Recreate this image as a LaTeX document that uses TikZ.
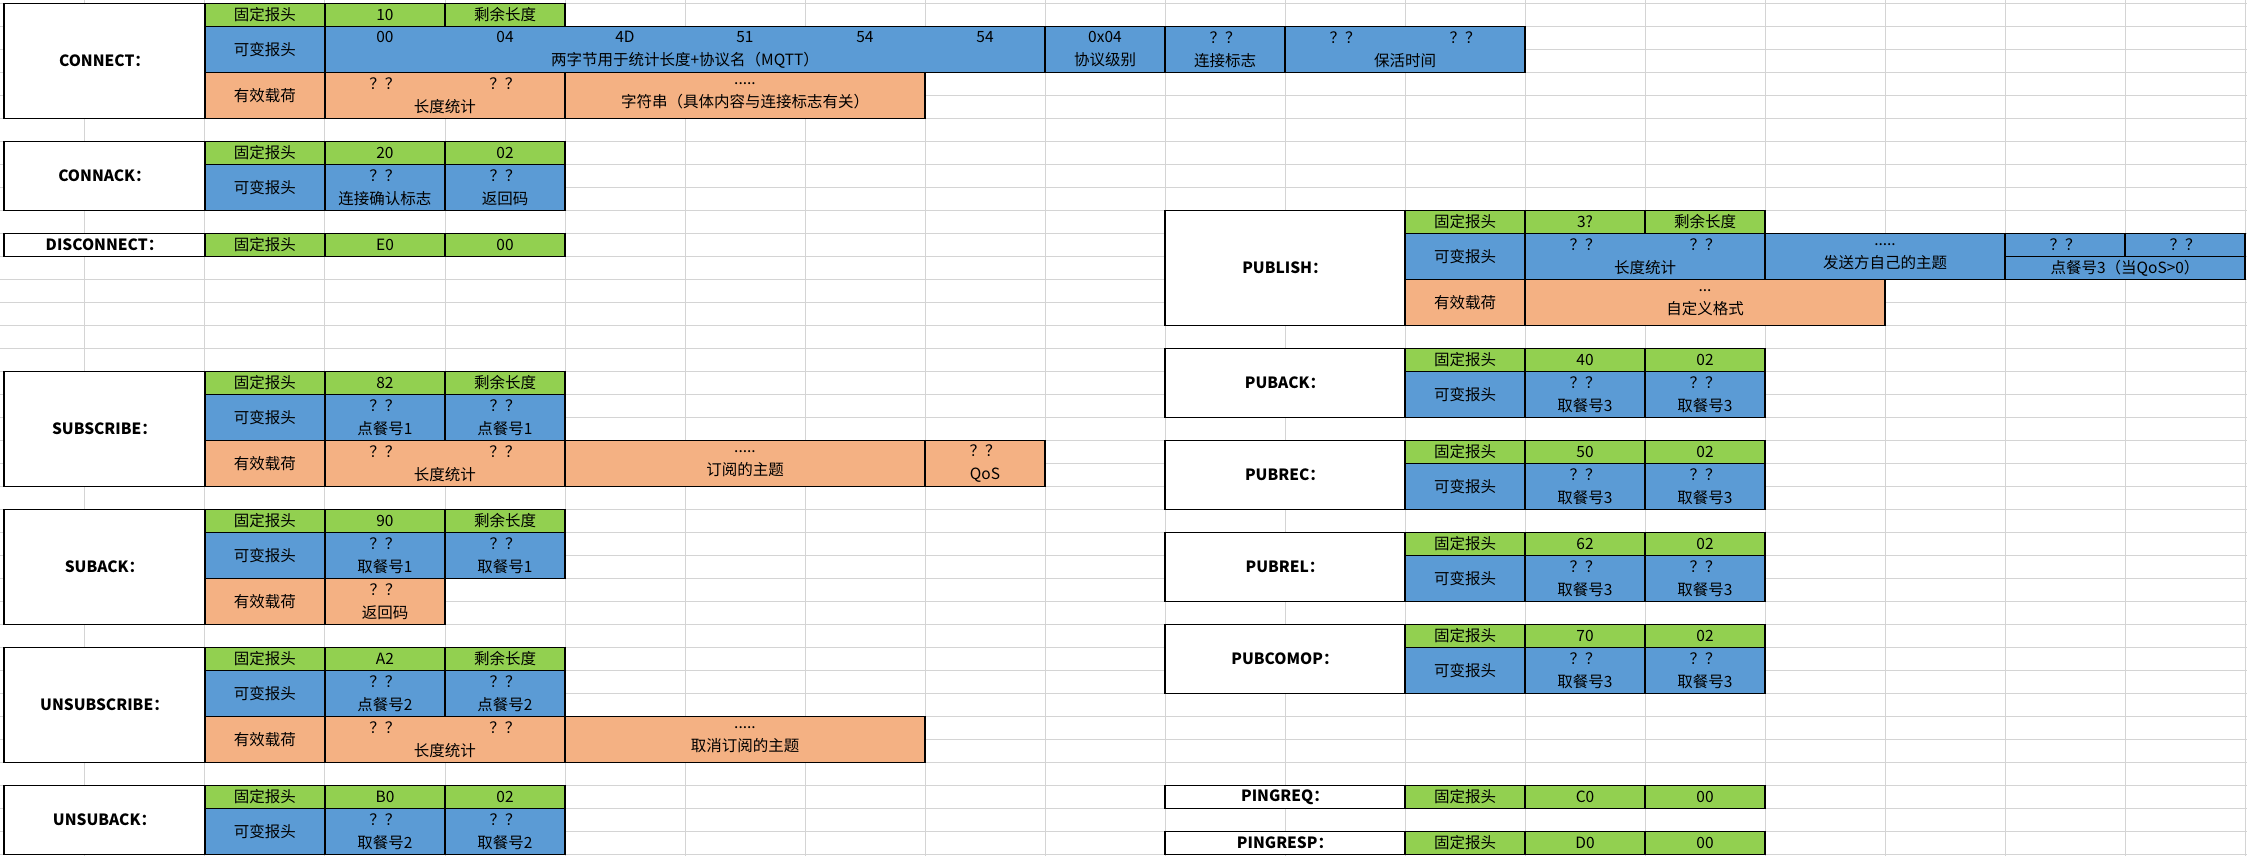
\documentclass[tikz,border=0pt]{standalone}
\usepackage{fontspec}
\setmainfont{Noto Sans CJK SC}
\usepackage{xcolor}
\usepackage{tikz}
\definecolor{fixgreen}{HTML}{92D050}
\definecolor{varblue}{HTML}{5B9BD5}
\definecolor{loadorange}{HTML}{F4B183}
\definecolor{sheetgrid}{HTML}{D4D4D4}
\newcommand\cellfont{\fontsize{7.75}{11.5}\selectfont}
\newcommand\cw[1]{\makebox[60pt]{#1}}
\tikzset{
  cell/.style={
    draw, rectangle, anchor=north west,
    inner sep=0pt, outer sep=0pt, line width=0.75pt,
    minimum width=60pt, minimum height=11.5pt,
    align=center, font=\cellfont
  },
  cols/.style={minimum width=#1*60pt},
  rows/.style={minimum height=#1*11.5pt},
  title/.style={cell, fill=white, font=\cellfont\bfseries},
  fixhdr/.style={cell, fill=fixgreen},
  varhdr/.style={cell, fill=varblue, rows=2},
  payload/.style={cell, fill=loadorange, rows=2},
  gridline/.style={draw=sheetgrid, line width=0.5pt}
}

\begin{document}
\begin{tikzpicture}[x=60pt, y=-11.5pt]
\useasboundingbox (-0.7083,-0.1435) rectangle (18.0167,37.074);
% sheet grid
\foreach \r in {0,...,37} \draw[gridline] (-0.7083,\r) -- (18.0167,\r);
\foreach \c in {0,...,18} \draw[gridline] (\c,-0.1435) -- (\c,37.074);

% CONNECT
\node[title, cols=1.675, rows=5] (connect) at (-0.675,0) {CONNECT：};
\node[fixhdr] (connectF) at (1,0) {固定报头};
\node[fixhdr] (connectF1) at (2,0) {10};
\node[fixhdr] (connectF2) at (3,0) {剩余长度};
\node[varhdr] (connectV) at (1,1) {可变报头};
\node[varhdr, cols=6] (connectV1) at (2,1) {\cw{00}\cw{04}\cw{4D}\cw{51}\cw{54}\cw{54}\\两字节用于统计长度+协议名（MQTT）};
\node[varhdr] (connectV2) at (8,1) {0x04\\协议级别};
\node[varhdr] (connectV3) at (9,1) {？？\\连接标志};
\node[varhdr, cols=2] (connectV4) at (10,1) {\cw{？？}\cw{？？}\\保活时间};
\node[payload] (connectP) at (1,3) {有效载荷};
\node[payload, cols=2] (connectP1) at (2,3) {\cw{？？}\cw{？？}\\长度统计};
\node[payload, cols=3] (connectP2) at (4,3) {.....\\字符串（具体内容与连接标志有关）};

% CONNACK
\node[title, cols=1.675, rows=3] (connack) at (-0.675,6) {CONNACK：};
\node[fixhdr] (connackF) at (1,6) {固定报头};
\node[fixhdr] (connackF1) at (2,6) {20};
\node[fixhdr] (connackF2) at (3,6) {02};
\node[varhdr] (connackV) at (1,7) {可变报头};
\node[varhdr] (connackV1) at (2,7) {？？\\连接确认标志};
\node[varhdr] (connackV2) at (3,7) {？？\\返回码};

% DISCONNECT
\node[title, cols=1.675] (disconnect) at (-0.675,10) {DISCONNECT：};
\node[fixhdr] (disconnectF) at (1,10) {固定报头};
\node[fixhdr] (disconnectF1) at (2,10) {E0};
\node[fixhdr] (disconnectF2) at (3,10) {00};

% SUBSCRIBE
\node[title, cols=1.675, rows=5] (subscribe) at (-0.675,16) {SUBSCRIBE：};
\node[fixhdr] (subscribeF) at (1,16) {固定报头};
\node[fixhdr] (subscribeF1) at (2,16) {82};
\node[fixhdr] (subscribeF2) at (3,16) {剩余长度};
\node[varhdr] (subscribeV) at (1,17) {可变报头};
\node[varhdr] (subscribeV1) at (2,17) {？？\\点餐号1};
\node[varhdr] (subscribeV2) at (3,17) {？？\\点餐号1};
\node[payload] (subscribeP) at (1,19) {有效载荷};
\node[payload, cols=2] (subscribeP1) at (2,19) {\cw{？？}\cw{？？}\\长度统计};
\node[payload, cols=3] (subscribeP2) at (4,19) {.....\\订阅的主题};
\node[payload] (subscribeP3) at (7,19) {？？\\QoS};

% SUBACK
\node[title, cols=1.675, rows=5] (suback) at (-0.675,22) {SUBACK：};
\node[fixhdr] (subackF) at (1,22) {固定报头};
\node[fixhdr] (subackF1) at (2,22) {90};
\node[fixhdr] (subackF2) at (3,22) {剩余长度};
\node[varhdr] (subackV) at (1,23) {可变报头};
\node[varhdr] (subackV1) at (2,23) {？？\\取餐号1};
\node[varhdr] (subackV2) at (3,23) {？？\\取餐号1};
\node[payload] (subackP) at (1,25) {有效载荷};
\node[payload] (subackP1) at (2,25) {？？\\返回码};

% UNSUBSCRIBE
\node[title, cols=1.675, rows=5] (unsubscribe) at (-0.675,28) {UNSUBSCRIBE：};
\node[fixhdr] (unsubscribeF) at (1,28) {固定报头};
\node[fixhdr] (unsubscribeF1) at (2,28) {A2};
\node[fixhdr] (unsubscribeF2) at (3,28) {剩余长度};
\node[varhdr] (unsubscribeV) at (1,29) {可变报头};
\node[varhdr] (unsubscribeV1) at (2,29) {？？\\点餐号2};
\node[varhdr] (unsubscribeV2) at (3,29) {？？\\点餐号2};
\node[payload] (unsubscribeP) at (1,31) {有效载荷};
\node[payload, cols=2] (unsubscribeP1) at (2,31) {\cw{？？}\cw{？？}\\长度统计};
\node[payload, cols=3] (unsubscribeP2) at (4,31) {.....\\取消订阅的主题};

% UNSUBACK
\node[title, cols=1.675, rows=3] (unsuback) at (-0.675,34) {UNSUBACK：};
\node[fixhdr] (unsubackF) at (1,34) {固定报头};
\node[fixhdr] (unsubackF1) at (2,34) {B0};
\node[fixhdr] (unsubackF2) at (3,34) {02};
\node[varhdr] (unsubackV) at (1,35) {可变报头};
\node[varhdr] (unsubackV1) at (2,35) {？？\\取餐号2};
\node[varhdr] (unsubackV2) at (3,35) {？？\\取餐号2};

% PUBLISH
\node[title, cols=2, rows=5] (publish) at (9,9) {PUBLISH：};
\node[fixhdr] (publishF) at (11,9) {固定报头};
\node[fixhdr] (publishF1) at (12,9) {3?};
\node[fixhdr] (publishF2) at (13,9) {剩余长度};
\node[varhdr] (publishV) at (11,10) {可变报头};
\node[varhdr, cols=2] (publishV1) at (12,10) {\cw{？？}\cw{？？}\\长度统计};
\node[varhdr, cols=2] (publishV2) at (14,10) {.....\\发送方自己的主题};
\node[varhdr, rows=1] (publishV3) at (16,10) {？？};
\node[varhdr, rows=1] (publishV4) at (17,10) {？？};
\node[varhdr, rows=1, cols=2] (publishV5) at (16,11) {点餐号3（当QoS>0）};
\node[payload] (publishP) at (11,12) {有效载荷};
\node[payload, cols=3] (publishP1) at (12,12) {...\\自定义格式};

% PUBACK
\node[title, cols=2, rows=3] (puback) at (9,15) {PUBACK：};
\node[fixhdr] (pubackF) at (11,15) {固定报头};
\node[fixhdr] (pubackF1) at (12,15) {40};
\node[fixhdr] (pubackF2) at (13,15) {02};
\node[varhdr] (pubackV) at (11,16) {可变报头};
\node[varhdr] (pubackV1) at (12,16) {？？\\取餐号3};
\node[varhdr] (pubackV2) at (13,16) {？？\\取餐号3};

% PUBREC
\node[title, cols=2, rows=3] (pubrec) at (9,19) {PUBREC：};
\node[fixhdr] (pubrecF) at (11,19) {固定报头};
\node[fixhdr] (pubrecF1) at (12,19) {50};
\node[fixhdr] (pubrecF2) at (13,19) {02};
\node[varhdr] (pubrecV) at (11,20) {可变报头};
\node[varhdr] (pubrecV1) at (12,20) {？？\\取餐号3};
\node[varhdr] (pubrecV2) at (13,20) {？？\\取餐号3};

% PUBREL
\node[title, cols=2, rows=3] (pubrel) at (9,23) {PUBREL：};
\node[fixhdr] (pubrelF) at (11,23) {固定报头};
\node[fixhdr] (pubrelF1) at (12,23) {62};
\node[fixhdr] (pubrelF2) at (13,23) {02};
\node[varhdr] (pubrelV) at (11,24) {可变报头};
\node[varhdr] (pubrelV1) at (12,24) {？？\\取餐号3};
\node[varhdr] (pubrelV2) at (13,24) {？？\\取餐号3};

% PUBCOMOP
\node[title, cols=2, rows=3] (pubcomp) at (9,27) {PUBCOMOP：};
\node[fixhdr] (pubcompF) at (11,27) {固定报头};
\node[fixhdr] (pubcompF1) at (12,27) {70};
\node[fixhdr] (pubcompF2) at (13,27) {02};
\node[varhdr] (pubcompV) at (11,28) {可变报头};
\node[varhdr] (pubcompV1) at (12,28) {？？\\取餐号3};
\node[varhdr] (pubcompV2) at (13,28) {？？\\取餐号3};

% PINGREQ / PINGRESP
\node[title, cols=2] (pingreq) at (9,34) {PINGREQ：};
\node[fixhdr] (pingreqF) at (11,34) {固定报头};
\node[fixhdr] (pingreqF1) at (12,34) {C0};
\node[fixhdr] (pingreqF2) at (13,34) {00};
\node[title, cols=2] (pingresp) at (9,36) {PINGRESP：};
\node[fixhdr] (pingrespF) at (11,36) {固定报头};
\node[fixhdr] (pingrespF1) at (12,36) {D0};
\node[fixhdr] (pingrespF2) at (13,36) {00};
\end{tikzpicture}
\end{document}
